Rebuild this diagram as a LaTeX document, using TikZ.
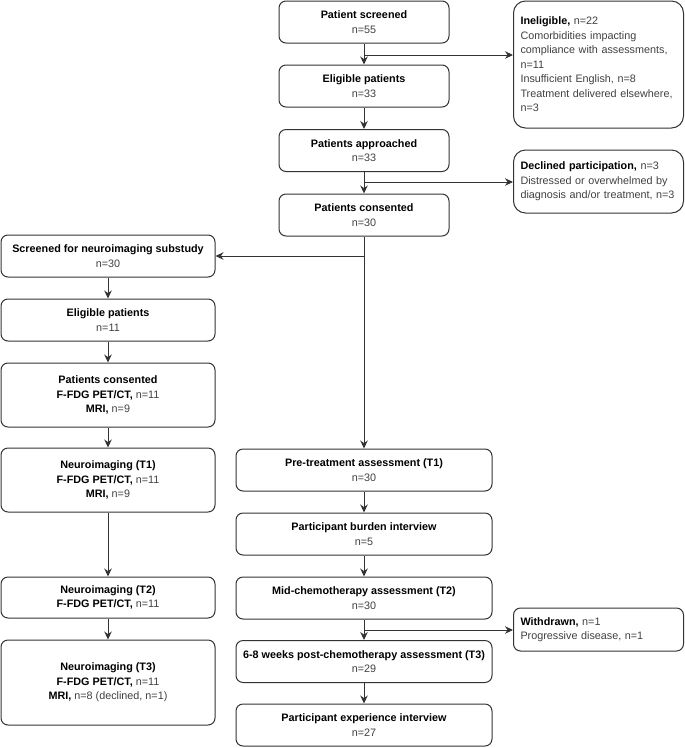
\documentclass[tikz,border=0pt]{standalone}
\usepackage{fontspec}
\setmainfont{Liberation Sans}
\usetikzlibrary{arrows.meta}
\definecolor{linegray}{HTML}{333333}
\definecolor{textgray}{HTML}{404040}
\newcommand{\hd}[1]{\textbf{\color{black}#1}}
\tikzset{
	box/.style={draw=linegray, line width=1pt, rounded corners=7pt, align=center, inner sep=2pt, text=textgray, font=\fontsize{10.8}{14.5}\selectfont},
	midbox/.style={box, minimum width=170pt, minimum height=42pt},
	leftbox/.style={box, minimum width=214pt},
	rightbox/.style={box, minimum width=256pt, minimum height=42pt},
	notebox/.style={box, align=left, rounded corners=12pt, text width=156pt, inner xsep=7pt},
	arr/.style={draw=linegray, line width=1pt, -{Stealth[length=8pt,width=7.5pt]}},
}

\begin{document}
\begin{tikzpicture}[x=1pt, y=-1pt]
			%%%%% START %%%%%
			\useasboundingbox (0,0) rectangle (685,748);
			
			% main column
			\node[midbox] (scr) at (364, 22) {\hd{Patient screened}\\n=55};
			\node[midbox] (elig) at (364, 86) {\hd{Eligible patients}\\n=33};
			\node[midbox] (appr) at (364, 150.5) {\hd{Patients approached}\\n=33};
			\node[midbox] (cons) at (364, 215) {\hd{Patients consented}\\n=30};
			
			% exclusions
			\node[notebox, minimum height=127pt] (inel) at (598.5, 64.5) {\hd{Ineligible,} n=22\\Comorbidities impacting\\compliance with assessments,\\n=11\\Insufficient English, n=8\\Treatment delivered elsewhere,\\n=3};
			\node[notebox, minimum height=63pt] (decl) at (598.5, 181.5) {\hd{Declined participation,} n=3\\Distressed or overwhelmed by\\diagnosis and/or treatment, n=3};
			\node[notebox, minimum height=43pt, rounded corners=7pt] (wd) at (598.5, 629.5) {\hd{Withdrawn,} n=1\\Progressive disease, n=1};
			
			% neuroimaging substudy
			\node[leftbox, minimum height=42pt] (scrN) at (108, 256) {\hd{Screened for neuroimaging substudy}\\n=30};
			\node[leftbox, minimum height=42pt] (eligN) at (108, 320) {\hd{Eligible patients}\\n=11};
			\node[leftbox, minimum height=64pt] (consN) at (108, 395) {\hd{Patients consented}\\\hd{F-FDG PET/CT,} n=11\\\hd{MRI,} n=9};
			\node[leftbox, minimum height=64pt] (img1) at (108, 480) {\hd{Neuroimaging (T1)}\\\hd{F-FDG PET/CT,} n=11\\\hd{MRI,} n=9};
			\node[leftbox, minimum height=41pt] (img2) at (108, 597.5) {\hd{Neuroimaging (T2)}\\\hd{F-FDG PET/CT,} n=11};
			\node[leftbox, minimum height=85pt] (img3) at (108, 682.5) {\hd{Neuroimaging (T3)}\\\hd{F-FDG PET/CT,} n=11\\\hd{MRI,} n=8 (declined, n=1)};
			
			% assessments
			\node[rightbox] (pre) at (364, 470) {\hd{Pre-treatment assessment (T1)}\\n=30};
			\node[rightbox] (burden) at (364, 534) {\hd{Participant burden interview}\\n=5};
			\node[rightbox] (mid) at (364, 598) {\hd{Mid-chemotherapy assessment (T2)}\\n=30};
			\node[rightbox] (post) at (364, 661.5) {\hd{6-8 weeks post-chemotherapy assessment (T3)}\\n=29};
			\node[rightbox] (exper) at (364, 725) {\hd{Participant experience interview}\\n=27};
			
			% branch points
			\coordinate (b1) at (364, 55);
			\coordinate (b2) at (364, 182);
			\coordinate (b3) at (364, 256);
			\coordinate (b4) at (364, 630);
			
			% connectors
			\draw[arr] (scr) -- (elig);
			\draw[arr] (elig) -- (appr);
			\draw[arr] (appr) -- (cons);
			\draw[arr] (cons) -- (pre);
			\draw[arr] (b1) -- (b1 -| inel.west);
			\draw[arr] (b2) -- (b2 -| decl.west);
			\draw[arr] (b3) -- (b3 -| scrN.east);
			\draw[arr] (b4) -- (b4 -| wd.west);
			
			\draw[arr] (scrN) -- (eligN);
			\draw[arr] (eligN) -- (consN);
			\draw[arr] (consN) -- (img1);
			\draw[arr] (img1) -- (img2);
			\draw[arr] (img2) -- (img3);
			
			\draw[arr] (pre) -- (burden);
			\draw[arr] (burden) -- (mid);
			\draw[arr] (mid) -- (post);
			\draw[arr] (post) -- (exper);
			
			%%%%% END %%%%%
\end{tikzpicture}
\end{document}
